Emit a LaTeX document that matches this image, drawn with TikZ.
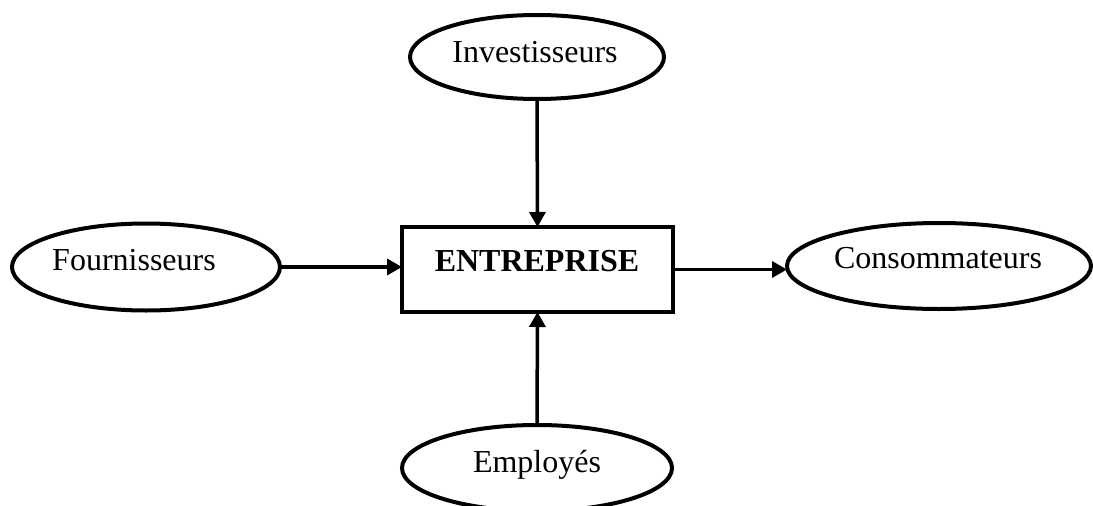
\documentclass[tikz,border=0pt]{standalone}
\usepackage{fontspec}
\setmainfont{Liberation Serif}
\usetikzlibrary{shapes.geometric,arrows.meta}
\tikzset{
  party/.style={ellipse,draw,line width=4pt,inner sep=0pt,outer sep=0pt},
  firm/.style={rectangle,draw,line width=4pt,inner sep=0pt,outer sep=0pt,minimum width=271pt,minimum height=85pt},
  lbl/.style={anchor=base,inner sep=0pt,font=\fontsize{32}{38}\selectfont},
  flow/.style={line width=3.5pt,-{Triangle[length=15pt,width=16pt]}}
}
\begin{document}
\begin{tikzpicture}[x=1pt,y=-1pt]
\useasboundingbox (0,0) rectangle (1093,506);
\node[party,minimum width=254pt,minimum height=84pt] (inv) at (537,57) {};
\node[party,minimum width=268pt,minimum height=87pt] (fou) at (146,267) {};
\node[party,minimum width=304pt,minimum height=86pt] (con) at (939,266) {};
\node[party,minimum width=270pt,minimum height=86pt] (emp) at (537,468) {};
\node[firm] (ent) at (537.5,269.5) {};
\node[lbl] (tinv) at (535,62) {Investisseurs};
\node[lbl] (tfou) at (134,270) {Fournisseurs};
\node[lbl] (tent) at (537,271) {\bfseries ENTREPRISE};
\node[lbl] (tcon) at (938,268) {Consommateurs};
\node[lbl] (temp) at (537,472) {Employés};
\draw[flow] (inv.south) -- (ent.north);
\draw[flow] (emp.north) -- (ent.south);
\draw[flow] (fou.east) -- (fou.east -| ent.west);
\draw[flow] (ent.east) -- (ent.east -| con.west);
\end{tikzpicture}
\end{document}
